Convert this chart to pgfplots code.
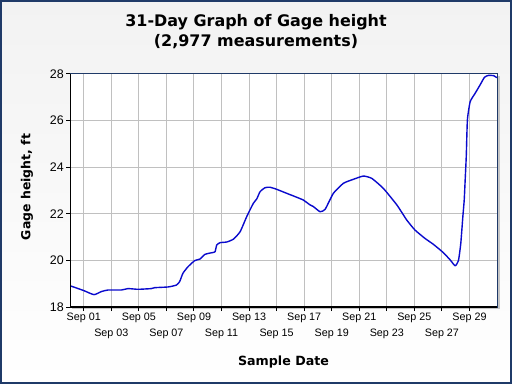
\documentclass[border=0pt]{standalone}
\usepackage{pgfplots}
\pgfplotsset{compat=1.18}
\usepackage{fontspec}
\setmainfont{DejaVu Sans}
\newfontfamily\lib{Liberation Sans}
\definecolor{navy}{HTML}{1F3A68}
\definecolor{gridgray}{HTML}{C0C0C0}
\definecolor{lineblue}{HTML}{0A0ACD}
\begin{document}
\begin{tikzpicture}[x=1bp,y=1bp]
\shade[top color={rgb,255:red,242;green,242;blue,242}, bottom color=white] (0,0) rectangle (512,384);
\draw[navy, line width=2bp] (1,1) rectangle (511,383);
\fill[gray!45] (72,75) rectangle (499.5,308);
\begin{axis}[at={(70bp,77bp)}, anchor=south west, scale only axis,
  width=427bp, height=233bp,
  xmin=0, xmax=31, ymin=18, ymax=28,
  axis background/.style={fill=white},
  xtick={1,5,9,13,17,21,25,29},
  xticklabels={Sep 01,Sep 05,Sep 09,Sep 13,Sep 17,Sep 21,Sep 25,Sep 29},
  extra x ticks={3,7,11,15,19,23,27},
  extra x tick labels={Sep 03,Sep 07,Sep 11,Sep 15,Sep 19,Sep 23,Sep 27},
  extra x tick style={grid=major, tick label style={yshift=-15.6bp}},
  ytick={18,20,22,24,26,28},
  grid=major, major grid style={gridgray, line width=1bp},
  tick align=outside, tick pos=left, major tick length=4bp,
  tick style={black, line width=1bp},
  axis line style={navy, line width=1bp},
  /pgf/number format/assume math mode=true,
  xticklabel style={font=\lib\fontsize{10.8}{12}\selectfont, inner sep=2bp},
  yticklabel style={font=\lib\fontsize{12.5}{14}\selectfont, inner sep=2bp},
  xlabel={\bfseries Sample Date},
  xlabel style={at={(axis description cs:0.5,-0.236)}, anchor=center, font=\fontsize{12.7}{14}\selectfont},
  ylabel={\bfseries Gage height, ft},
  ylabel style={at={(axis description cs:-0.1007,0.515)}, anchor=center, font=\fontsize{12.5}{14}\selectfont},
]
\addplot[lineblue, line width=1.4bp, line join=round, smooth, tension=0.3] coordinates {
(0,18.91) (0.5,18.81) (1.02,18.70) (1.74,18.53) (2.27,18.66) (2.76,18.73) (3.73,18.73)
(4.21,18.79) (4.94,18.76) (5.9,18.79) (6.15,18.83) (7.12,18.86) (7.72,18.94) (7.96,19.09)
(8.2,19.45) (8.57,19.73) (9.05,19.99) (9.44,20.06) (9.8,20.26) (10.29,20.33) (10.53,20.37)
(10.65,20.66) (10.89,20.76) (11.38,20.79) (11.86,20.91) (12.35,21.23) (12.83,21.88)
(13.31,22.45) (13.56,22.64) (13.8,22.95) (14.16,23.12) (14.52,23.14) (15.01,23.05)
(15.73,22.88) (16.46,22.71) (16.94,22.59) (17.43,22.38) (17.67,22.31) (18.15,22.09)
(18.52,22.19) (19.12,22.88) (19.85,23.31) (20.57,23.48) (21.3,23.62) (21.91,23.52)
(22.75,23.09) (23.73,22.38) (24.45,21.73) (25.05,21.3) (25.78,20.94) (26.38,20.69)
(27.11,20.33) (27.6,20.02) (27.96,19.77) (28.2,19.99) (28.37,20.73) (28.52,21.88)
(28.62,22.6) (28.7,23.6) (28.77,24.5) (28.85,26.03) (29.05,26.81) (29.41,27.17)
(29.77,27.53) (30.09,27.86) (30.38,27.94) (30.75,27.93) (30.94,27.86) (31,27.85)
};
\draw[black, line width=2bp] (rel axis cs:0,1) -- (rel axis cs:0,0) -- (rel axis cs:1,0);
\end{axis}
\node[align=center, font=\bfseries\fontsize{16}{19.5}\selectfont] at (256,352.5) {31-Day Graph of Gage height\\(2,977 measurements)};
\end{tikzpicture}
\end{document}
